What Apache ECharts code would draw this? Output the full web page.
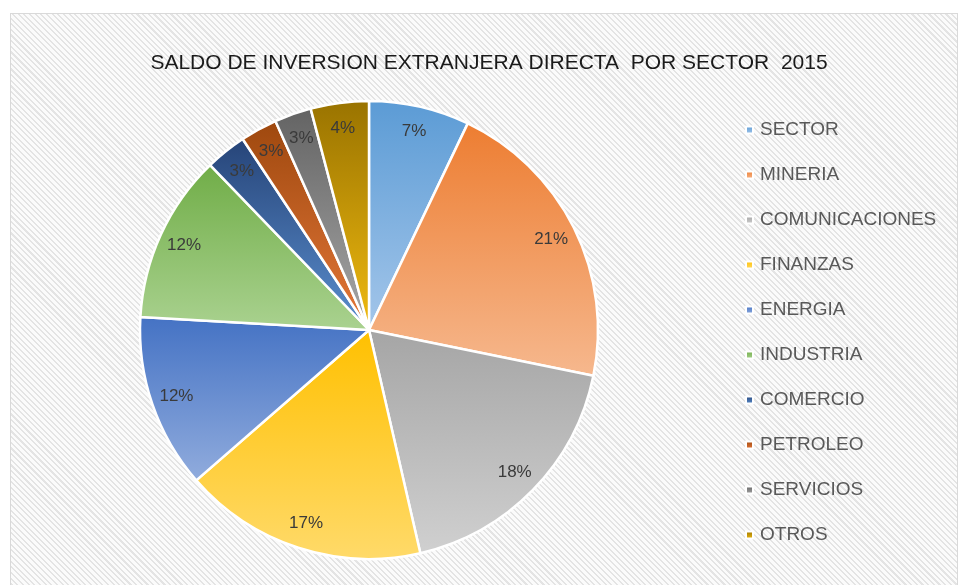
<!DOCTYPE html>
<html lang="es">
<head>
    <meta charset="utf-8">
    <title>Saldo de inversion extranjera directa por sector 2015</title>
    <script src="https://cdn.jsdelivr.net/npm/echarts@6/dist/echarts.min.js"></script>
    <style>
        html, body { margin: 0; padding: 0; background: #fff; }
        #wrap {
            position: absolute; left: 10px; top: 13px; width: 946px; height: 580px;
            border: 1px solid #d9d9d9;
            background: repeating-linear-gradient(45deg, #fbfbfb 0px, #fbfbfb 2.5px, #e4e4e4 2.5px, #e4e4e4 4px);
        }
        #chart { position: absolute; left: 0; top: 0; width: 959px; height: 585px; }
    </style>
</head>
<body>
<div id="wrap"></div>
<div id="chart"></div>
<script type="text/javascript">
    // datos (porcentaje de cada sector)
    const sectores = ['SECTOR', 'MINERIA', 'COMUNICACIONES', 'FINANZAS', 'ENERGIA',
        'INDUSTRIA', 'COMERCIO', 'PETROLEO', 'SERVICIOS', 'OTROS'];
    const valores = [7.1, 21.1, 18.2, 17.2, 12.3, 11.9, 2.9, 2.6, 2.6, 4.1];

    // colores (arriba -> abajo) estilo Excel
    const colorArriba = ['#5B9BD5', '#ED7D31', '#A5A5A5', '#FFC000', '#4472C4',
        '#70AD47', '#264478', '#9E480E', '#636363', '#997300'];
    const colorAbajo = ['#A4C6EA', '#F6B88E', '#D0D0D0', '#FFDA6A', '#91ACDD',
        '#AAD290', '#5B8FCF', '#E5783A', '#A8A8A8', '#F0BA10'];

    const chart = echarts.init(document.getElementById('chart'));

    const datosPie = sectores.map((name, i) => ({
        name: name,
        value: valores[i],
        itemStyle: {
            color: new echarts.graphic.LinearGradient(0, 0, 0, 1, [
                { offset: 0, color: colorArriba[i] },
                { offset: 1, color: colorAbajo[i] }
            ])
        }
    }));

    chart.setOption({
        backgroundColor: 'transparent',
        animation: false,
        title: {
            text: 'SALDO DE INVERSION EXTRANJERA DIRECTA  POR SECTOR  2015',
            left: 484, top: 48, textAlign: 'center',
            textStyle: { fontFamily: 'Liberation Sans', fontSize: 21, fontWeight: 'normal', color: '#1a1a1a' }
        },
        legend: {
            orient: 'vertical',
            left: 740, top: 115,
            data: sectores,
            icon: 'rect',
            itemWidth: 7, itemHeight: 7,
            itemGap: 25,
            selectedMode: false,
            textStyle: { fontFamily: 'Liberation Sans', fontSize: 19, lineHeight: 20, color: '#595959', padding: [0, 0, 0, 2] }
        },
        series: [
            {
                type: 'pie',
                center: [369, 330],
                radius: [0, 229],
                startAngle: 90,
                clockwise: true,
                silent: true,
                itemStyle: { borderColor: '#ffffff', borderWidth: 2.5 },
                label: { show: false },
                labelLine: { show: false },
                data: datosPie
            },
            {
                // serie transparente solo para ubicar las etiquetas cerca del borde
                type: 'pie',
                center: [369, 330],
                radius: [172, 229],
                startAngle: 90,
                clockwise: true,
                silent: true,
                itemStyle: { color: 'rgba(0,0,0,0)', borderWidth: 0 },
                label: {
                    show: true,
                    position: 'inside',
                    formatter: p => Math.round(p.percent) + '%',
                    fontFamily: 'Liberation Sans',
                    fontSize: 17,
                    color: '#3a3a3a'
                },
                labelLine: { show: false },
                data: sectores.map((name, i) => ({ name: name, value: valores[i] }))
            }
        ]
    });
</script>
</body>
</html>
